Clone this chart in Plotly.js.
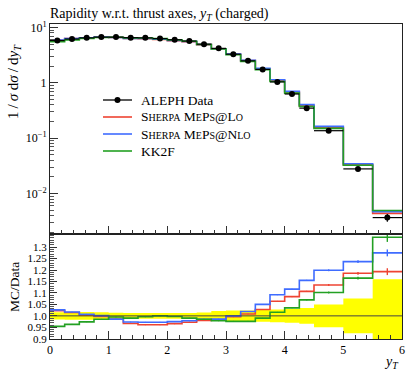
<!DOCTYPE html>
<html>
<head>
<meta charset="utf-8">
<script src="https://cdn.plot.ly/plotly-3.0.1.min.js"></script>
<style>
  body { margin: 0; padding: 0; background: #fff; }
  #chart { width: 415px; height: 375px; }
</style>
</head>
<body>
<div id="chart"></div>
<script>
// bin edges of the y_T histogram
const binEdges = [0, 0.25, 0.5, 0.75, 1.0, 1.25, 1.5, 1.75, 2.0, 2.25, 2.5, 2.75,
                  3.0, 3.25, 3.5, 3.75, 4.0, 4.25, 4.5, 5.0, 5.5, 6.0];

// ALEPH data, 1/sigma dsigma/dy_T
const alephData = [5.8, 6.2, 6.5, 6.7, 6.7, 6.55, 6.5, 6.3, 6.0, 5.7, 5.0,
                   4.2, 3.3, 2.5, 1.75, 1.04, 0.63, 0.35, 0.137, 0.028, 0.0037];
// relative data uncertainty (yellow band)
const alephRelErr = [0.016, 0.017, 0.017, 0.016, 0.014, 0.013, 0.013, 0.013, 0.013, 0.013, 0.015,
                     0.021, 0.024, 0.024, 0.026, 0.028, 0.03, 0.034, 0.05, 0.076, 0.16];

// MC / Data ratios
const ratioLo  = [1.023, 1.015, 1.004, 0.998, 0.985, 0.967, 0.961, 0.961, 0.966, 0.972, 0.98,
                  0.982, 0.996, 1.008, 1.028, 1.064, 1.084, 1.107, 1.135, 1.186, 1.193];
const ratioNlo = [1.026, 1.017, 1.007, 1.001, 0.986, 0.973, 0.972, 0.972, 0.975, 0.979, 0.985,
                  0.986, 1.0, 1.019, 1.05, 1.092, 1.117, 1.155, 1.199, 1.237, 1.275];
const ratioKK  = [0.954, 0.963, 0.974, 0.985, 0.995, 0.99, 0.996, 1.0, 0.997, 0.99, 0.985,
                  0.979, 0.976, 0.976, 0.99, 1.016, 1.035, 1.07, 1.102, 1.165, 1.343];
// MC statistical errors on the ratio
const ratioLoErr  = [0, 0, 0, 0, 0, 0, 0, 0, 0, 0, 0, 0, 0, 0, 0, 0, 0, 0.002, 0.004, 0.006, 0.015];
const ratioNloErr = [0, 0, 0, 0, 0, 0, 0, 0, 0, 0, 0, 0, 0, 0, 0, 0, 0, 0.002, 0.004, 0.006, 0.015];
const ratioKKErr  = [0, 0, 0, 0, 0, 0, 0, 0, 0, 0, 0, 0, 0, 0, 0, 0, 0, 0.002, 0.004, 0.006, 0.02];

const RED = '#EE4433', BLUE = '#3F6CFF', GREEN = '#23A023';
const FONT = 'Liberation Serif, DejaVu Serif, serif';
const sc = s => `<span style="font-size:10px">${s}</span>`;

const legendNames = ['ALEPH Data',
    `S${sc('HERPA')} M${sc('E')}P${sc('S')}@L${sc('O')}`,
    `S${sc('HERPA')} M${sc('E')}P${sc('S')}@N${sc('LO')}`,
    'KK2F'];
const legendColors = ['#000', RED, BLUE, GREEN];

const centers = binEdges.slice(0, -1).map((e, i) => (e + binEdges[i + 1]) / 2);
const halfW = binEdges.slice(0, -1).map((e, i) => (binEdges[i + 1] - e) / 2);
const stepY = arr => arr.concat([arr[arr.length - 1]]);

function mcStep(ratio, color) {
    const vals = ratio.map((r, i) => r * alephData[i]);
    return {
        x: binEdges, y: stepY(vals), xaxis: 'x2', yaxis: 'y2',
        mode: 'lines', line: { shape: 'hv', color: color, width: 1.6 },
        showlegend: false, hoverinfo: 'skip'
    };
}

function ratioStep(ratio, err, color) {
    return [{
        x: binEdges, y: stepY(ratio), xaxis: 'x', yaxis: 'y',
        mode: 'lines', line: { shape: 'hv', color: color, width: 1.6 },
        showlegend: false, hoverinfo: 'skip'
    }, {
        x: centers, y: ratio, xaxis: 'x', yaxis: 'y', mode: 'markers',
        marker: { size: 1, color: color },
        error_y: { type: 'data', array: err, color: color, thickness: 1.4, width: 0 },
        showlegend: false, hoverinfo: 'skip'
    }];
}

const bandLo = alephRelErr.map(e => 1 - e);
const bandHi = alephRelErr.map(e => 1 + e);

const traces = [
    mcStep(ratioLo, RED),
    mcStep(ratioNlo, BLUE),
    mcStep(ratioKK, GREEN),
    {
        x: centers, y: alephData, xaxis: 'x2', yaxis: 'y2', mode: 'markers',
        marker: { color: '#000', size: 6 },
        error_x: { type: 'data', array: halfW, color: '#000', thickness: 1.2, width: 0 },
        error_y: { type: 'data', array: alephData.map((v, i) => v * alephRelErr[i]), color: '#000', thickness: 1.2, width: 0 },
        showlegend: false, hoverinfo: 'skip'
    },
    // ratio panel: data band
    { x: binEdges, y: stepY(bandLo), xaxis: 'x', yaxis: 'y', mode: 'lines',
      line: { shape: 'hv', width: 0, color: '#ffff00' }, showlegend: false, hoverinfo: 'skip' },
    { x: binEdges, y: stepY(bandHi), xaxis: 'x', yaxis: 'y', mode: 'lines', fill: 'tonexty',
      fillcolor: '#ffff00', line: { shape: 'hv', width: 0, color: '#ffff00' }, showlegend: false, hoverinfo: 'skip' },
    ...ratioStep(ratioLo, ratioLoErr, RED),
    ...ratioStep(ratioNlo, ratioNloErr, BLUE),
    ...ratioStep(ratioKK, ratioKKErr, GREEN)
];

// log minor ticks
const logMinor = [];
[0.001, 0.01, 0.1, 1, 10].forEach(d => { for (let k = 2; k <= 9; k++) logMinor.push(k * d); });
const ratioMinor = [];
for (let v = 0.9; v <= 1.36; v += 0.01) ratioMinor.push(+v.toFixed(2));

// pixel -> paper helpers (plot area 50..402 x 24..339)
const px = p => (p - 50) / 352;
const py = p => (339 - p) / 315;

// hand-made legend
const shapes = [
    { type: 'line', xref: 'x', yref: 'y', x0: 0, x1: 6, y0: 1, y1: 1,
      line: { color: '#444', width: 1 }, layer: 'above' }
];
const annotations = [];
legendNames.forEach((name, i) => {
    const yy = 100 + i * 17;
    shapes.push({ type: 'line', xref: 'paper', yref: 'paper', x0: px(103), x1: px(132),
                  y0: py(yy), y1: py(yy), line: { color: legendColors[i], width: i === 0 ? 1.3 : 1.6 } });
    annotations.push({ text: name, xref: 'paper', yref: 'paper', x: px(139), y: py(yy),
                       xanchor: 'left', yanchor: 'middle', showarrow: false,
                       font: { family: FONT, size: 13.5, color: '#000' } });
});
shapes.push({ type: 'circle', xref: 'paper', yref: 'paper', x0: px(114.5), x1: px(120.5),
              y0: py(103), y1: py(97), fillcolor: '#000', line: { color: '#000', width: 0 } });

annotations.push(
    { text: '1\u2009/\u2009<i>σ</i>\u00a0d<i>σ</i>\u2009/\u2009d<i>y<sub>T</sub></i>', textangle: -90,
      xref: 'paper', yref: 'paper', x: px(14), y: py(82), xanchor: 'center', yanchor: 'middle',
      showarrow: false, font: { family: FONT, size: 15, color: '#000' } },
    { text: 'MC/Data', textangle: -90,
      xref: 'paper', yref: 'paper', x: px(14), y: py(287), xanchor: 'center', yanchor: 'middle',
      showarrow: false, font: { family: FONT, size: 13.5, color: '#000' } },
    { text: '<i>y<sub>T</sub></i>',
      xref: 'paper', yref: 'paper', x: px(401), y: py(362), xanchor: 'right', yanchor: 'middle',
      showarrow: false, font: { family: FONT, size: 14, color: '#000' } }
);

const axisCommon = {
    showline: true, linecolor: '#222', linewidth: 1, mirror: true,
    ticks: 'inside', tickcolor: '#333', showgrid: false, zeroline: false,
    tickfont: { family: FONT, size: 12, color: '#000' }
};

const layout = {
    width: 415, height: 375,
    margin: { l: 50, r: 13, t: 24, b: 36 },
    paper_bgcolor: '#fff', plot_bgcolor: '#fff',
    font: { family: FONT, color: '#000' },
    title: {
        text: 'Rapidity w.r.t. thrust axes, <i>y<sub>T</sub></i> (charged)',
        font: { family: FONT, size: 14, color: '#000' },
        x: 50 / 415, xanchor: 'left', xref: 'container', y: 0.978, yanchor: 'top', yref: 'container'
    },
    showlegend: false,
    xaxis: Object.assign({}, axisCommon, {
        domain: [0, 1], anchor: 'y', range: [0, 6],
        tickvals: [0, 1, 2, 3, 4, 5, 6], ticklen: 8,
        minor: { dtick: 0.2, ticks: 'inside', ticklen: 4, tickcolor: '#333' }
    }),
    yaxis: Object.assign({}, axisCommon, {
        domain: [0, 0.333], anchor: 'x', range: [0.899, 1.357],
        tickvals: [0.9, 0.95, 1.0, 1.05, 1.1, 1.15, 1.2, 1.25, 1.3],
        ticktext: ['0.9', '0.95', '1.0', '1.05', '1.1', '1.15', '1.2', '1.25', '1.3'],
        ticklen: 7, tickfont: { family: FONT, size: 11, color: '#000' },
        minor: { tickvals: ratioMinor, ticks: 'inside', ticklen: 3.5, tickcolor: '#555' }
    }),
    xaxis2: Object.assign({}, axisCommon, {
        domain: [0, 1], anchor: 'y2', range: [0, 6], matches: 'x',
        showticklabels: false, tickvals: [0, 1, 2, 3, 4, 5, 6], ticklen: 8,
        minor: { dtick: 0.2, ticks: 'inside', ticklen: 4, tickcolor: '#333' }
    }),
    yaxis2: Object.assign({}, axisCommon, {
        domain: [0.333, 1], anchor: 'x2', type: 'log', range: [-2.73, 1.063],
        tickvals: [0.01, 0.1, 1, 10],
        ticktext: ['10<sup>−2</sup>', '10<sup>−1</sup>', '1', '10<sup>1</sup>'],
        ticklen: 8,
        minor: { tickvals: logMinor, ticks: 'inside', ticklen: 4, tickcolor: '#555' }
    }),
    shapes: shapes,
    annotations: annotations
};

Plotly.newPlot('chart', traces, layout, { displayModeBar: false, staticPlot: true });
</script>
</body>
</html>
